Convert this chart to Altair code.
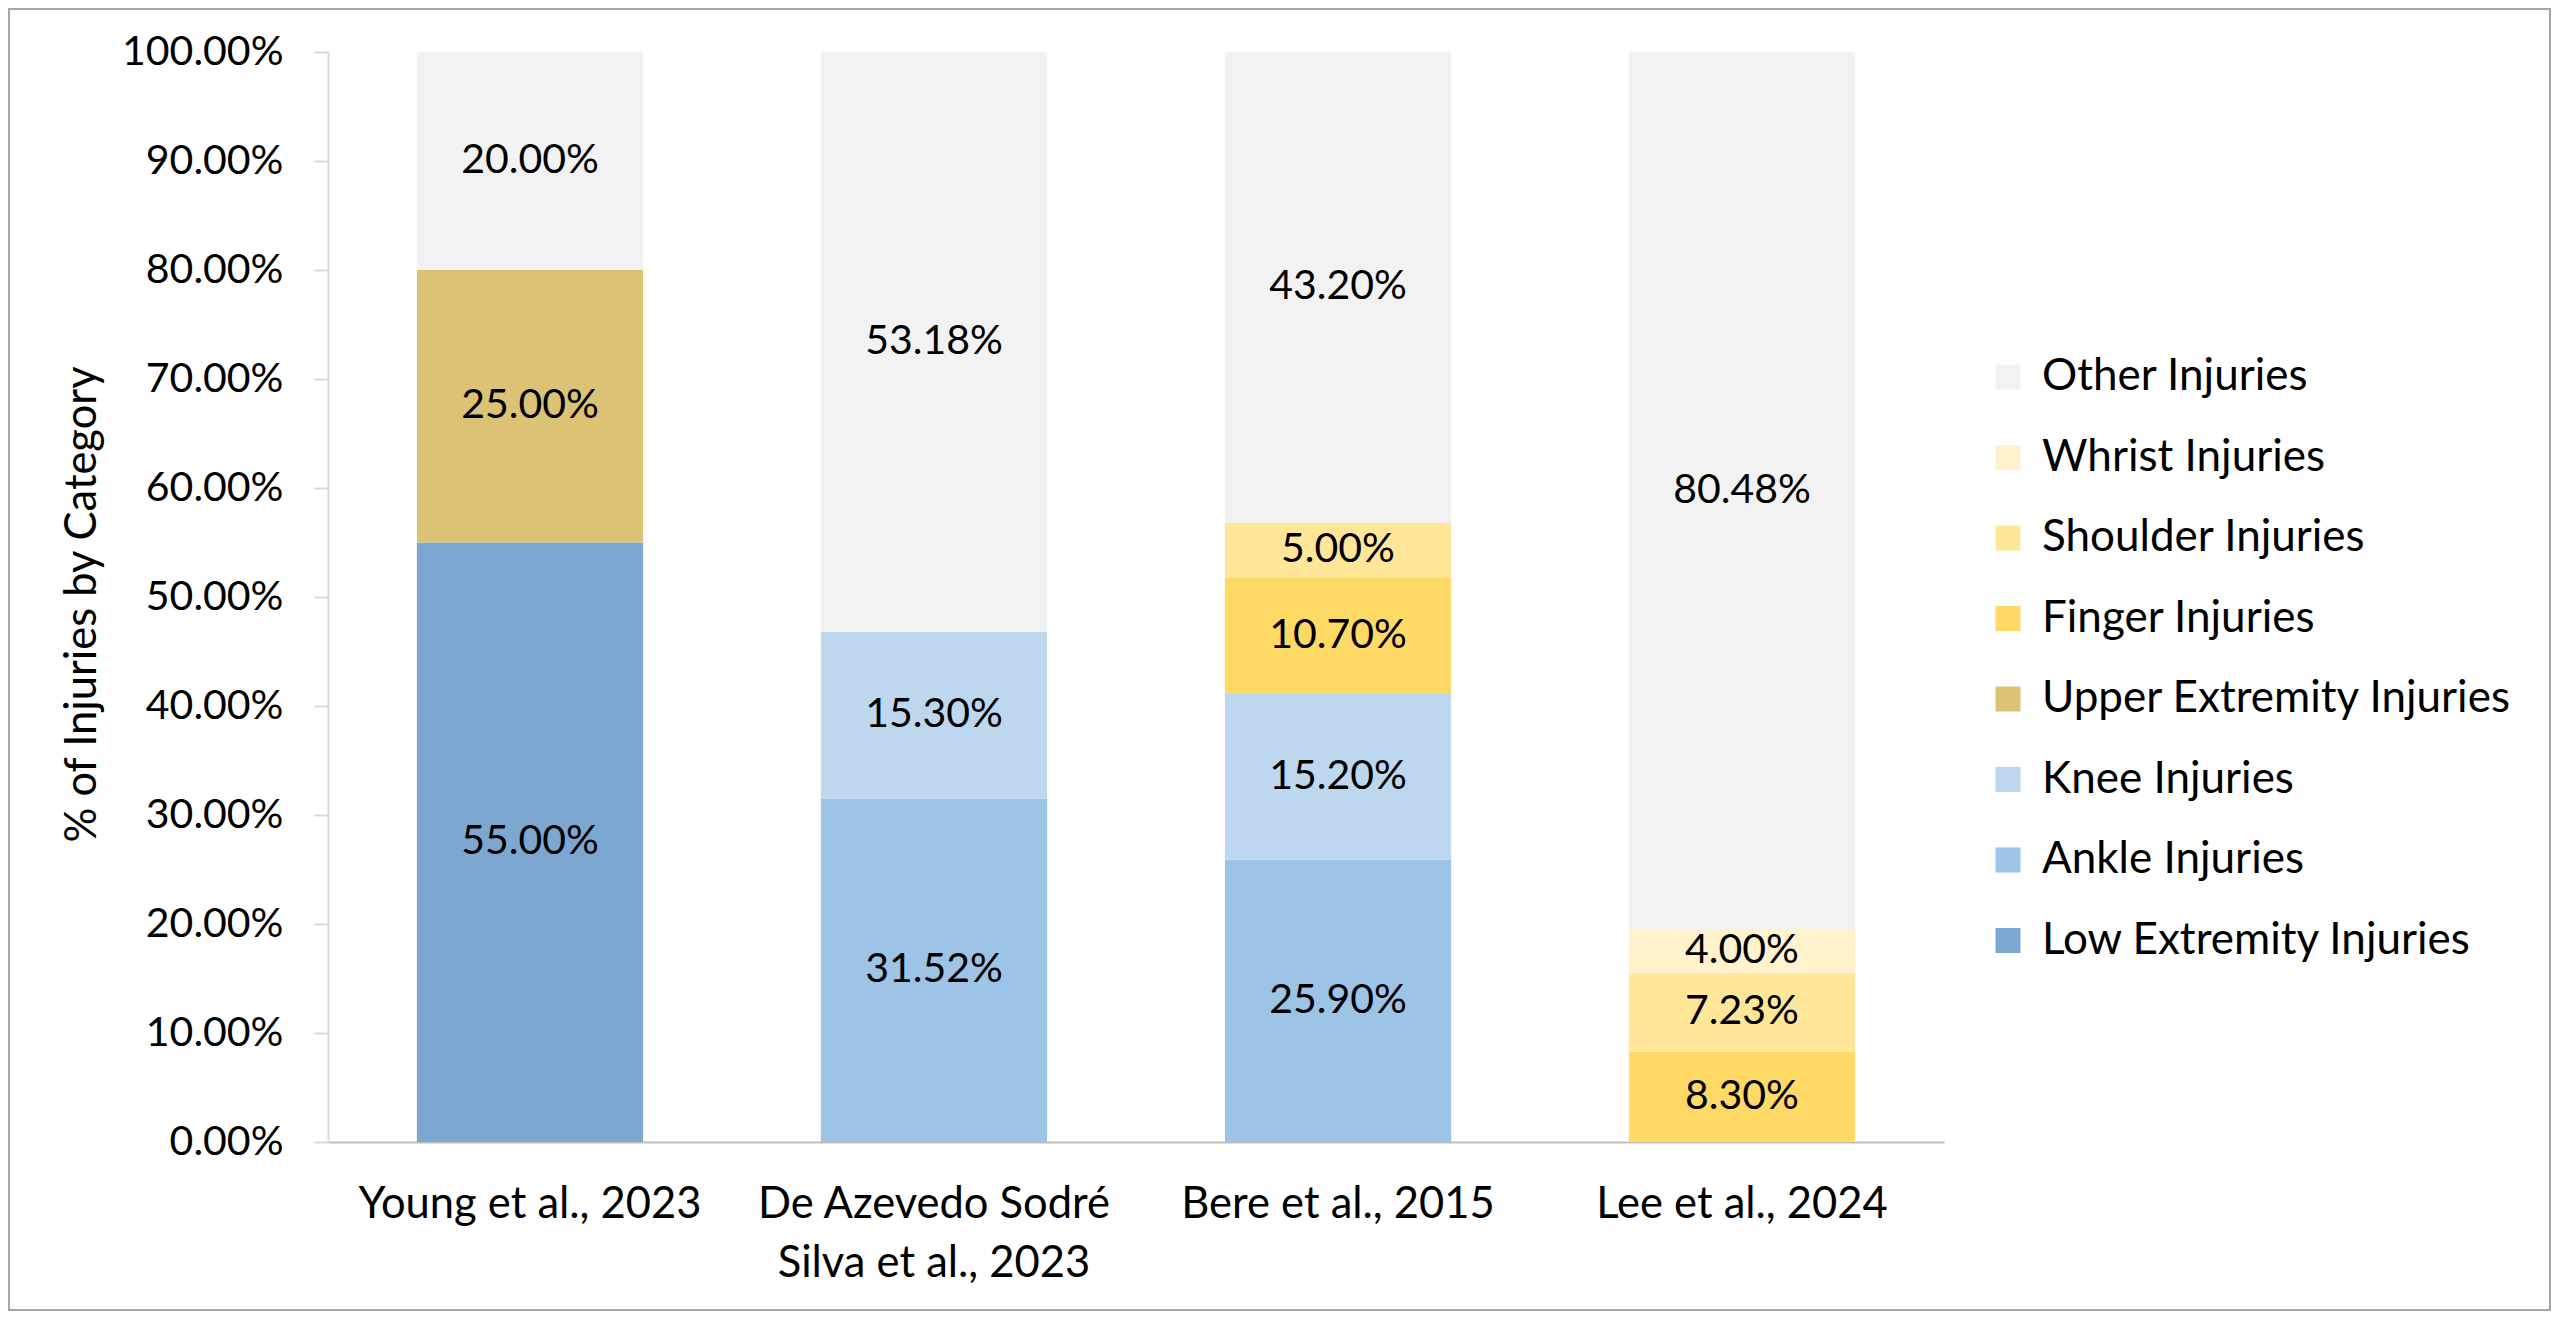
import altair as alt
import pandas as pd

studies = [
    "Young et al., 2023",
    "De Azevedo Sodré Silva et al., 2023",
    "Bere et al., 2015",
    "Lee et al., 2024",
]

# legend order (top to bottom)
legend_categories = [
    "Other Injuries",
    "Whrist Injuries",
    "Shoulder Injuries",
    "Finger Injuries",
    "Upper Extremity Injuries",
    "Knee Injuries",
    "Ankle Injuries",
    "Low Extremity Injuries",
]
legend_colors = [
    "#F2F2F2",
    "#FFF2CC",
    "#FFE699",
    "#FFD966",
    "#DCC274",
    "#BDD7EE",
    "#9DC3E6",
    "#7BA7D1",
]

young_cats = ["Low Extremity Injuries", "Upper Extremity Injuries", "Other Injuries"]
young_vals = [55.00, 25.00, 20.00]

azevedo_cats = ["Ankle Injuries", "Knee Injuries", "Other Injuries"]
azevedo_vals = [31.52, 15.30, 53.18]

bere_cats = ["Ankle Injuries", "Knee Injuries", "Finger Injuries", "Shoulder Injuries", "Other Injuries"]
bere_vals = [25.90, 15.20, 10.70, 5.00, 43.20]

lee_cats = ["Finger Injuries", "Shoulder Injuries", "Whrist Injuries", "Other Injuries"]
lee_vals = [8.30, 7.23, 4.00, 80.48]

y_ticks = [0, 10, 20, 30, 40, 50, 60, 70, 80, 90, 100]

stack_order = list(reversed(legend_categories))  # bottom to top

rows = []
for study, cats, vals in zip(
    studies,
    [young_cats, azevedo_cats, bere_cats, lee_cats],
    [young_vals, azevedo_vals, bere_vals, lee_vals],
):
    for c, v in zip(cats, vals):
        rows.append({"study": study, "category": c, "value": v, "order": stack_order.index(c)})
df = pd.DataFrame(rows)

FONT = "Lato"
FS = 41
FS_TXT = 43.5

x_enc = alt.X(
    "study:N",
    sort=studies,
    scale=alt.Scale(paddingInner=0.44, paddingOuter=0.22),
    axis=alt.Axis(
        title=None,
        labelAngle=0,
        ticks=False,
        domainColor="#BFBFBF",
        domainWidth=2,
        labelPadding=41,
        labelFont=FONT,
        labelFontSize=FS_TXT,
        labelColor="black",
        labelLimit=0,
        labelLineHeight=59,
        labelExpr="datum.label == 'De Azevedo Sodré Silva et al., 2023' ? ['De Azevedo Sodré', 'Silva et al., 2023'] : datum.label",
    ),
)

base = alt.Chart(df).transform_stack(
    stack="value",
    as_=["v0", "v1"],
    groupby=["study"],
    sort=[alt.SortField("order", order="ascending")],
).transform_calculate(
    mid="(datum.v0 + datum.v1) / 2",
    label="format(datum.value, '.2f') + '%'",
)

bars = base.mark_bar().encode(
    x=x_enc,
    y=alt.Y(
        "v0:Q",
        scale=alt.Scale(domain=[0, 100], nice=False),
        axis=alt.Axis(
            values=y_ticks,
            labelExpr="format(datum.value, '.2f') + '%'",
            grid=False,
            domainColor="#D9D9D9",
            domainWidth=2,
            tickColor="#D9D9D9",
            tickWidth=2,
            tickSize=14,
            labelPadding=31,
            labelFont=FONT,
            labelFontSize=FS,
            labelColor="black",
            labelLimit=0,
            title="% of Injuries by Category",
            titleFont=FONT,
            titleFontSize=FS_TXT,
            titleFontWeight="normal",
            titleColor="black",
            titleAngle=270,
            titleX=-246,
            titleY=552,
            titleAlign="center",
            titleBaseline="middle",
        ),
    ),
    y2="v1:Q",
    color=alt.Color(
        "category:N",
        scale=alt.Scale(domain=legend_categories, range=legend_colors),
        legend=alt.Legend(
            title=None,
            orient="none",
            legendX=1658,
            legendY=303,
            symbolType="square",
            symbolSize=625,
            symbolStrokeWidth=0,
            labelOffset=12,
            rowPadding=36.5,
            labelFont=FONT,
            labelFontSize=44,
            labelColor="black",
            labelLimit=0,
        ),
    ),
)

texts = base.mark_text(font=FONT, fontSize=FS, color="black", baseline="middle").encode(
    x=alt.X("study:N", sort=studies),
    y=alt.Y("mid:Q"),
    text="label:N",
)

frame = alt.Chart(pd.DataFrame({"f": [0]})).mark_rect(
    fillOpacity=0, stroke="#A6A6A6", strokeWidth=2
).encode(
    x=alt.value(-319), x2=alt.value(2222), y=alt.value(-43), y2=alt.value(1258)
)

chart = alt.layer(bars, texts, frame).properties(
    width=1616,
    height=1090,
    padding={"left": 320, "top": 44, "right": 608, "bottom": 169},
    autosize=alt.AutoSizeParams(type="none"),
    background="white",
).configure_view(strokeWidth=0)

chart.save("out.html", embed_options={"renderer": "svg", "actions": False})
